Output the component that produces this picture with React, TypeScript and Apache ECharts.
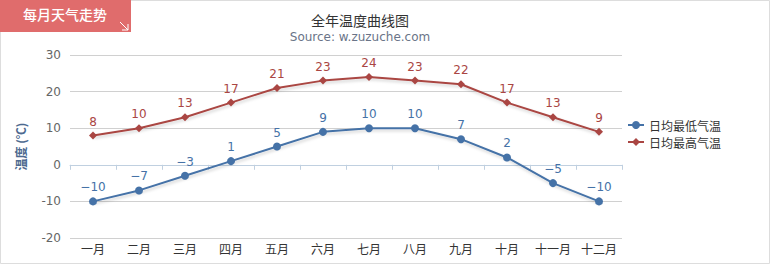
import React, { useEffect, useRef } from "react";
import * as echarts from "echarts";

const months = ["一月", "二月", "三月", "四月", "五月", "六月", "七月", "八月", "九月", "十月", "十一月", "十二月"];
const lowTemps = [-10, -7, -3, 1, 5, 9, 10, 10, 7, 2, -5, -10];
const highTemps = [8, 10, 13, 17, 21, 23, 24, 23, 22, 17, 13, 9];
const seriesNames = ["日均最低气温", "日均最高气温"];

const CJK = '"Noto Sans CJK SC", "DejaVu Sans", sans-serif';
const fmt = (p: any) => (p.value < 0 ? "−" + Math.abs(p.value) : String(p.value));

export default function App() {
  const ref = useRef<HTMLDivElement>(null);
  useEffect(() => {
    if (!ref.current) return;
    const chart = echarts.init(ref.current, undefined, { renderer: "svg" });
    const lineShadow = { shadowColor: "rgba(0,0,0,0.18)", shadowBlur: 3, shadowOffsetY: 2, shadowOffsetX: 1 };
    chart.setOption({
      animation: false,
      backgroundColor: "#ffffff",
      textStyle: { fontFamily: CJK },
      title: {
        text: "全年温度曲线图",
        subtext: "Source: w.zuzuche.com",
        left: 355,
        textAlign: "center",
        top: 8,
        itemGap: 4,
        textStyle: { fontSize: 14, fontWeight: "normal", color: "#333333", fontFamily: CJK },
        subtextStyle: { fontSize: 12, color: "#6a7488", fontFamily: '"DejaVu Sans", sans-serif' },
      },
      legend: {
        orient: "vertical",
        left: 622,
        top: 114,
        itemWidth: 16,
        itemHeight: 10,
        itemGap: 5,
        data: seriesNames,
        textStyle: { fontSize: 12, color: "#333333", fontFamily: CJK, padding: [0, 0, 0, 0] },
      },
      grid: { left: 70, right: 148, top: 55, bottom: 26, containLabel: false },
      xAxis: {
        type: "category",
        data: months,
        boundaryGap: true,
        axisLine: { lineStyle: { color: "#c0d0e0" } },
        axisTick: { show: true, interval: 0, length: 5, lineStyle: { color: "#c0d0e0" } },
        axisLabel: { color: "#333333", fontSize: 12, margin: 4, interval: 0, fontFamily: CJK },
      },
      yAxis: {
        type: "value",
        min: -20,
        max: 30,
        interval: 10,
        name: "温度 (℃)",
        nameLocation: "middle",
        nameRotate: 90,
        nameGap: 44,
        nameTextStyle: { color: "#4d6a90", fontSize: 12, fontWeight: "bold", fontFamily: CJK },
        axisLine: { show: false },
        axisTick: { show: false },
        axisLabel: { color: "#666666", fontSize: 12, margin: 9, fontFamily: '"DejaVu Sans", sans-serif' },
        splitLine: { lineStyle: { color: "#d0d0d0" } },
      },
      series: [
        {
          name: seriesNames[0],
          type: "line",
          data: lowTemps,
          symbol: "circle",
          symbolSize: 8,
          itemStyle: { color: "#4572a7" },
          lineStyle: { width: 2, color: "#4572a7", ...lineShadow },
          label: { show: true, position: "top", distance: 4, color: "#4572a7", fontSize: 12, formatter: fmt, fontFamily: '"DejaVu Sans", sans-serif' },
        },
        {
          name: seriesNames[1],
          type: "line",
          data: highTemps,
          symbol: "diamond",
          symbolSize: 8,
          itemStyle: { color: "#aa4643" },
          lineStyle: { width: 2, color: "#aa4643", ...lineShadow },
          label: { show: true, position: "top", distance: 4, color: "#aa4643", fontSize: 12, formatter: fmt, fontFamily: '"DejaVu Sans", sans-serif' },
        },
      ],
      graphic: [
        {
          type: "rect",
          shape: { x: 0.5, y: 0.5, width: 769, height: 263 },
          style: { fill: "none", stroke: "#dddddd", lineWidth: 1 },
          silent: true,
        },
        {
          type: "rect",
          shape: { x: 0, y: 0, width: 131, height: 32 },
          style: { fill: "#e06c6c" },
        },
        {
          type: "text",
          x: 23,
          y: 7,
          style: { text: "每月天气走势", fill: "#ffffff", fontSize: 14, fontWeight: 500, fontFamily: CJK },
        },
        {
          type: "line",
          shape: { x1: 120, y1: 22, x2: 128, y2: 30 },
          style: { stroke: "#ffffff", lineWidth: 1 },
        },
        {
          type: "polyline",
          shape: { points: [[122, 30], [128, 30], [128, 24]] },
          style: { stroke: "#ffffff", lineWidth: 1, fill: "none" },
        },
      ],
    });
    return () => chart.dispose();
  }, []);
  return <div ref={ref} style={{ position: "fixed", left: 0, top: 0, width: 770, height: 264 }} />;
}
